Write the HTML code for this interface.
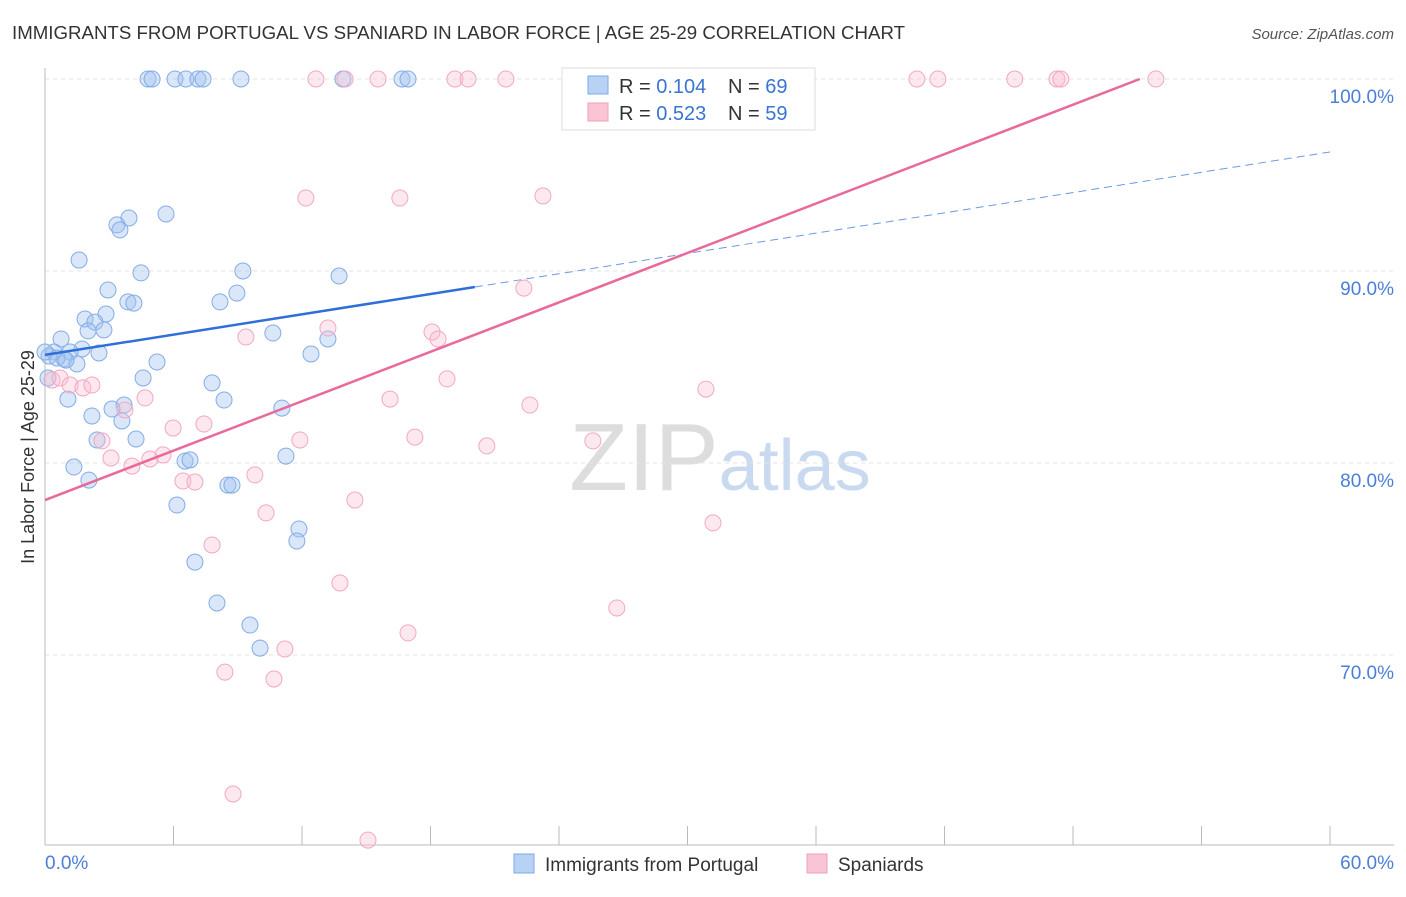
<!DOCTYPE html>
<html><head><meta charset="utf-8"><style>
body{margin:0;background:#fff;font-family:"Liberation Sans",sans-serif}
svg text{font-family:"Liberation Sans",sans-serif}
</style></head><body>
<svg id="c" width="1406" height="892" viewBox="0 0 1406 892">
<text x="12" y="39" font-size="18" fill="#333" textLength="893" lengthAdjust="spacingAndGlyphs">IMMIGRANTS FROM PORTUGAL VS SPANIARD IN LABOR FORCE | AGE 25-29 CORRELATION CHART</text>
<text x="1394" y="39" font-size="15" fill="#555" font-style="italic" text-anchor="end">Source: ZipAtlas.com</text>
<text x="720" y="490" font-size="96" fill="#ddd" text-anchor="middle" font-family="Liberation Serif">ZIP<tspan fill="#c9daf0" font-family="Liberation Sans" font-size="72">atlas</tspan></text>
<g id="grid"></g>
<g id="pts"></g>
<g id="lines"></g>
<text transform="translate(34,457) rotate(-90)" font-size="18" fill="#333" text-anchor="middle">In Labor Force | Age 25-29</text>
<text x="45" y="869" font-size="19" fill="#4a7fd6">0.0%</text>
<text x="1394" y="869" font-size="19" fill="#4a7fd6" text-anchor="end">60.0%</text>
<g>
<rect x="562" y="68" width="253" height="62" fill="#fff" stroke="#ddd"/>
<rect x="588" y="76" width="20" height="18" fill="#b7d2f5" stroke="#7fa9e6"/>
<rect x="588" y="103" width="20" height="18" fill="#f9c5d4" stroke="#eea0b8"/>
<text x="619" y="93" font-size="20" fill="#333">R = <tspan fill="#3a74d0">0.104</tspan></text>
<text x="728" y="93" font-size="20" fill="#333">N = <tspan fill="#3a74d0">69</tspan></text>
<text x="619" y="120" font-size="20" fill="#333">R = <tspan fill="#3a74d0">0.523</tspan></text>
<text x="728" y="120" font-size="20" fill="#333">N = <tspan fill="#3a74d0">59</tspan></text>
</g>
<g>
<rect x="514" y="854" width="20" height="19" fill="#b7d2f5" stroke="#7fa9e6"/>
<text x="545" y="871" font-size="19" fill="#333">Immigrants from Portugal</text>
<rect x="807" y="854" width="20" height="19" fill="#f9c5d4" stroke="#eea0b8"/>
<text x="838" y="871" font-size="19" fill="#333">Spaniards</text>
</g>
</svg>
<script>
const xTicks=[0,6,12,18,24,30,36,42,48,54,60];
const yTicks=[100,90,80,70];
const yTickLabels=["100.0%","90.0%","80.0%","70.0%"];
const blueX=[4.81,5.0,6.07,6.58,7.14,7.38,9.15,13.91,16.67,16.95,5.65,3.92,3.36,3.5,1.59,4.48,9.24,13.73,2.94,8.96,3.87,4.15,8.17,2.85,1.87,2.33,2.01,2.75,0.75,10.64,13.21,1.73,2.52,1.17,0.42,0.19,0.89,12.42,1.49,5.23,0.14,4.58,7.8,1.07,8.36,3.69,3.13,11.06,2.19,3.59,4.25,2.43,1.35,6.54,6.77,11.25,2.05,8.54,8.73,6.16,11.86,11.76,7.0,8.03,9.57,10.04,0.56,0,0.98];
const blueY=[100,100,100,100,100,100,100,100,100,100,92.97,92.76,92.4,92.14,90.57,89.9,90.0,89.74,89.01,88.85,88.39,88.33,88.39,87.76,87.5,87.34,86.88,86.93,86.46,86.77,86.46,85.94,85.73,85.78,85.78,85.57,85.42,85.68,85.16,85.26,84.43,84.43,84.17,83.33,83.28,83.02,82.81,82.86,82.45,82.19,81.25,81.2,79.79,80.1,80.16,80.36,79.11,78.85,78.85,77.81,76.56,75.94,74.84,72.71,71.56,70.36,85.47,85.78,85.36];
const pinkX=[12.65,14.01,15.55,19.14,19.75,21.52,24.79,29.46,40.71,41.69,45.28,47.25,47.43,51.87,12.18,16.57,23.25,22.36,13.21,18.07,18.35,9.38,18.77,30.86,0.33,0.7,1.17,1.77,2.19,4.67,16.11,22.64,3.73,7.42,5.98,17.27,11.9,2.66,25.58,20.63,3.08,5.51,4.9,4.06,9.8,6.44,7.0,14.47,10.32,31.19,7.8,13.77,26.7,16.95,11.2,8.4,10.69,8.78,15.08];
const pinkY=[100,100,100,100,100,100,100,100,100,100,100,100,100,100,93.8,93.8,93.91,89.11,87.03,86.82,86.46,86.56,84.38,83.85,84.32,84.43,84.06,83.91,84.06,83.39,83.33,83.02,82.76,82.03,81.82,81.35,81.2,81.15,81.15,80.89,80.26,80.42,80.21,79.84,79.38,79.06,79.01,78.07,77.4,76.88,75.73,73.75,72.45,71.15,70.31,69.11,68.75,62.76,60.36];
const blueLine=[85.63,96.2], blueSolidEnd=20.07;
const pinkLine=[78.07,0.429];
const X=v=>45+v*21.417, Y=v=>79+(100-v)*19.2;
const NS="http://www.w3.org/2000/svg";
function mk(t,a,p){const e=document.createElementNS(NS,t);for(const k in a)e.setAttribute(k,a[k]);p.appendChild(e);return e;}
const g=document.getElementById('grid');
yTicks.forEach((t,i)=>{
 const l=mk('line',{x1:45,x2:1394,y1:Y(t),y2:Y(t),stroke:'#e3e3e3','stroke-dasharray':'4,4'},g);
 
 
 const tx=mk('text',{x:1394,y:Y(t)+24,'font-size':19,fill:'#4a7fd6','text-anchor':'end'},g);
 tx.textContent=yTickLabels[i];
 
 
});
const ax=mk('line',{x1:45,x2:45,y1:68,y2:845,stroke:'#bbb'},g);


const bx=mk('line',{x1:45,x2:1394,y1:845,y2:845,stroke:'#bbb'},g);


xTicks.forEach(t=>{
 const l=mk('line',{x1:X(t),x2:X(t),y1:826,y2:845,stroke:'#bbb'},g);
 
 
});
const p=document.getElementById('pts');
blueX.forEach((v,i)=>{
 const c=mk('circle',{cx:X(v),cy:Y(blueY[i]),r:8,fill:'rgba(160,195,240,0.4)',stroke:'#84acE6','stroke-width':1},p);
 
 
});
pinkX.forEach((v,i)=>{
 const c=mk('circle',{cx:X(v),cy:Y(pinkY[i]),r:8,fill:'rgba(248,190,208,0.35)',stroke:'#f2a8c0','stroke-width':1},p);
 
 
});
const L=document.getElementById('lines');
const by=x=>blueLine[0]+(blueLine[1]-blueLine[0])*x/60;
const b1=mk('line',{x1:X(0),y1:Y(by(0)),x2:X(blueSolidEnd),y2:Y(by(blueSolidEnd)),stroke:'#2f6fd8','stroke-width':2.5},L);


const b2=mk('line',{x1:X(blueSolidEnd),y1:Y(by(blueSolidEnd)),x2:X(60),y2:Y(by(60)),stroke:'#6b9be0','stroke-width':1,'stroke-dasharray':'8,5'},L);


const pEnd=(100-pinkLine[0])/pinkLine[1];
const p1=mk('line',{x1:X(0),y1:Y(pinkLine[0]),x2:X(pEnd),y2:Y(100),stroke:'#e8699a','stroke-width':2.5},L);


</script>
</body></html>
